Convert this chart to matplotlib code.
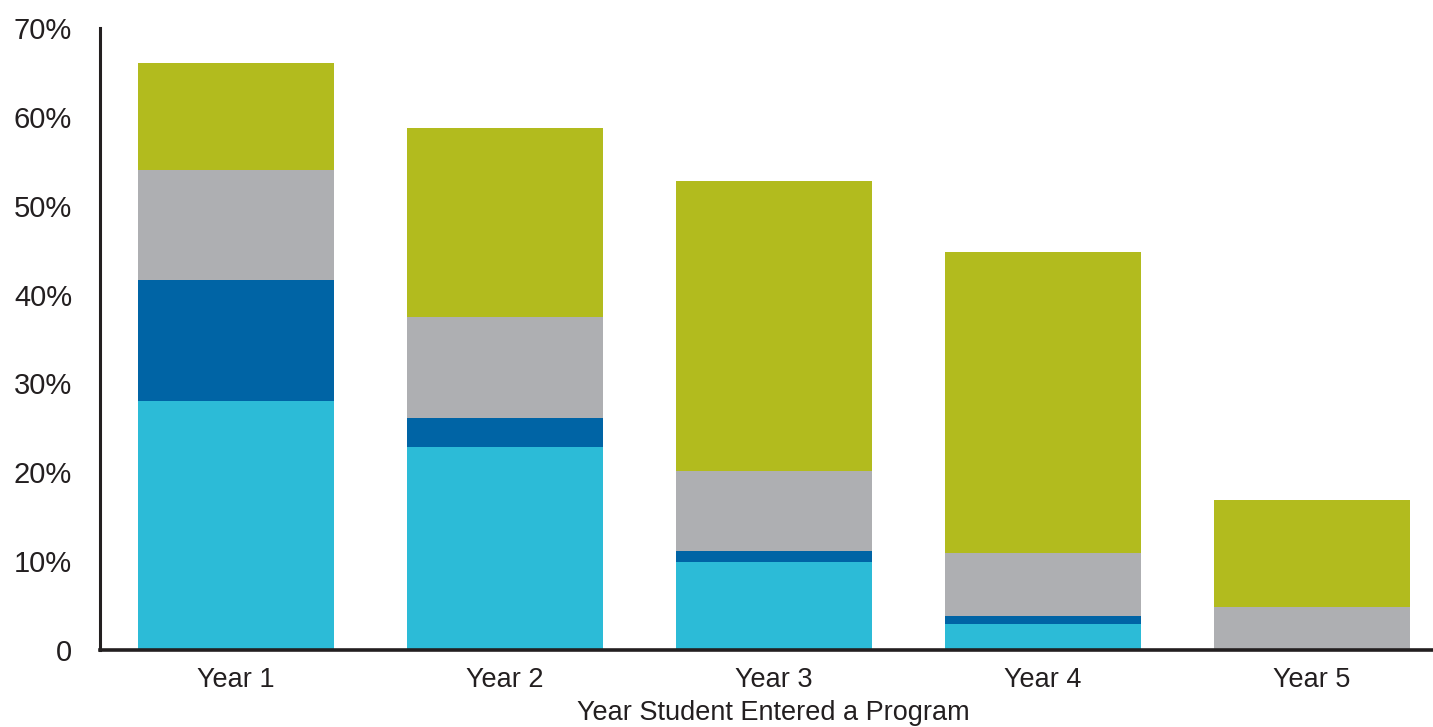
import matplotlib.pyplot as plt
import numpy as np

plt.rcParams['font.family'] = ['Liberation Sans', 'DejaVu Sans']

years = ['Year 1', 'Year 2', 'Year 3', 'Year 4', 'Year 5']
cyan_vals = [28.0, 22.8, 9.9, 2.9, 0.0]
navy_vals = [13.6, 3.3, 1.2, 0.9, 0.0]
gray_vals = [12.4, 11.4, 9.0, 7.1, 4.8]
green_vals = [12.1, 21.3, 32.7, 33.9, 12.1]
y_ticks = [0, 10, 20, 30, 40, 50, 60, 70]
y_labels = ['0', '10%', '20%', '30%', '40%', '50%', '60%', '70%']

fig = plt.figure(figsize=(14.33, 7.27), dpi=100)
ax = fig.add_axes([100 / 1433, 77 / 727, 1333 / 1433, 622 / 727])

x = np.arange(len(years))
w = 0.73
bottom = np.zeros(len(years))
for vals, col in [(cyan_vals, '#2CBBD7'), (navy_vals, '#0064A5'),
                  (gray_vals, '#AEAFB2'), (green_vals, '#B2BB1E')]:
    ax.bar(x, vals, w, bottom=bottom, color=col, linewidth=0)
    bottom = bottom + np.array(vals)

ax.set_xlim(-0.506, 4.45)
ax.set_ylim(0, 70)
ax.set_yticks(y_ticks)
ax.set_yticklabels(y_labels, fontsize=21, color='#231F20')
ax.set_xticks(x)
ax.set_xticklabels(years, fontsize=19.5, color='#231F20')
ax.tick_params(axis='y', length=0, pad=20)
ax.tick_params(axis='x', length=0, pad=12)

for s in ['top', 'right']:
    ax.spines[s].set_visible(False)
ax.spines['left'].set_linewidth(2.2)
ax.spines['bottom'].set_linewidth(2.6)
ax.spines['left'].set_color('#231F20')
ax.spines['bottom'].set_color('#231F20')

fig.text(773 / 1433, (727 - 713) / 727, 'Year Student Entered a Program',
         ha='center', va='center', fontsize=19.5, color='#231F20')

fig.savefig('out.png', dpi=100)
